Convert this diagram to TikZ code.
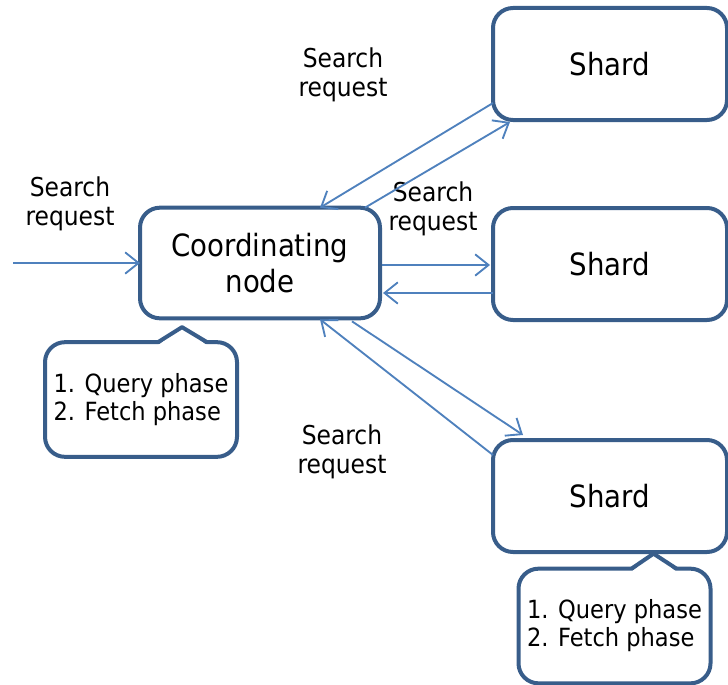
\documentclass[tikz,border=0pt]{standalone}
\usepackage{fontspec}
\setmainfont{DejaVu Sans Condensed}
\usetikzlibrary{arrows.meta}
\usetikzlibrary{calc}
\usetikzlibrary{positioning}
\definecolor{boxline}{HTML}{385D8A}
\definecolor{reqline}{HTML}{4F81BD}
\tikzset {
  box node/.style = {
    draw = boxline,
    line width = 3pt,
    rounded corners = 15pt,
    fill = white,
    outer sep = 0,
    align = center
  },
  % node that takes the incoming request
  coordinating/.style = {
    box node,
    minimum width = 180pt,
    minimum height = 83pt,
    font = \fontsize{23}{27}\selectfont
  },
  % one shard of the index
  shard/.style = {
    box node,
    minimum width = 175.5pt,
    minimum height = 84pt,
    font = \fontsize{23}{27}\selectfont
  },
  % text beside the arrows
  req label/.style = {
    align = center,
    inner sep = 0,
    font = \fontsize{19.5}{21.75}\selectfont
  },
  % speech bubble body, the pointer is drawn on top of it
  phases/.style = {
    box node,
    align = left,
    inner sep = 0,
    minimum width = 144pt,
    minimum height = 86pt,
    font = \fontsize{18.8}{21}\selectfont
  },
  pointer/.style = {
    draw = boxline,
    line width = 3pt,
    line join = round
  },
  req/.style = {
    draw = reqline,
    line width = 1.4pt,
    -{Straight Barb[length=10pt, width=16pt]}
  },
  node distance = 0.5cm
}
\begin{document}
\begin{tikzpicture}[x=0.75pt, y=-0.75pt]
    \useasboundingbox (0,0) rectangle (728,685);

    \node[coordinating] (coord) at (260,263) {Coordinating\\node};
    \node[shard] (shard-a) at (610,64) {Shard};
    \node[shard] (shard-b) [below=66pt of shard-a] {Shard};
    \node[shard] (shard-c) [below=90pt of shard-b] {Shard};
    \coordinate [left=95pt of coord] (entry);

    \node[req label] (label-in) at (70,204) {Search\\request};
    \node[req label] (label-a) at (343,75) {Search\\request};
    \node[req label] (label-b) at (433,209) {Search\\request};
    \node[req label] (label-c) at (342,452) {Search\\request};

    % speech bubbles under the coordinating node and the last shard
    \node[phases] (phases-a) at (141,399.5) {1. Query phase\\2. Fetch phase};
    \fill[white] ($(phases-a.north)+(17,3)$) -- ($(phases-a.north)+(41,-15)$)
      -- ($(phases-a.north)+(66,3)$) -- cycle;
    \draw[pointer] ($(phases-a.north)+(17,0)$) -- ($(phases-a.north)+(41,-15)$)
      -- ($(phases-a.north)+(66,0)$);

    \node[phases] (phases-b) at (614.5,626) {1. Query phase\\2. Fetch phase};
    \fill[white] ($(phases-b.north)+(17,3)$) -- ($(phases-b.north)+(39,-15)$)
      -- ($(phases-b.north)+(62,3)$) -- cycle;
    \draw[pointer] ($(phases-b.north)+(17,0)$) -- ($(phases-b.north)+(39,-15)$)
      -- ($(phases-b.north)+(62,0)$);

    \draw[req] (entry) -- (coord.west);
    \draw[req] ($(coord.north east)+(-15,0)$) -- ($(shard-a.south west)+(17,2)$);
    \draw[req] ($(shard-a.south west)+(0,-17)$) -- ($(coord.north)+(60,0)$);
    \draw[req] ($(coord.east)+(2,2)$) -- ($(shard-b.west)+(-3,1)$);
    \draw[req] ($(shard-b.west)+(0,29)$) -- ($(coord.east)+(3,30)$);
    \draw[req] ($(coord.south east)+(-28,3)$) -- ($(shard-c.north west)+(30,-5)$);
    \draw[req] ($(shard-c.north west)+(0,15)$) -- ($(coord.south)+(60,1)$);
  \end{tikzpicture}
\end{document}
